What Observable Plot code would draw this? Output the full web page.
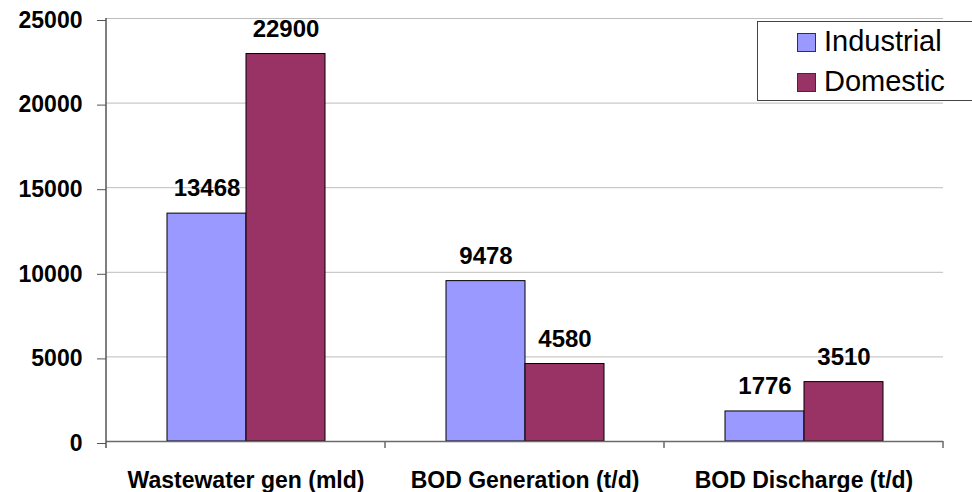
<!DOCTYPE html>
<html>
<head>
<meta charset="utf-8">
<script src="https://cdn.jsdelivr.net/npm/d3@7"></script>
<script src="https://cdn.jsdelivr.net/npm/@observablehq/plot@0.6"></script>
<style>
  html, body { margin: 0; padding: 0; background: #fff; overflow: hidden; }
  #wrap { position: relative; width: 972px; height: 492px; font-family: "Liberation Sans", Arial, sans-serif; }
  #legend { position: absolute; left: 757px; top: 21px; width: 230px; height: 80px; border: 1px solid #444; background: #fff; box-sizing: border-box; }
  .sw { position: absolute; width: 19px; height: 19px; border: 1px solid #333; box-sizing: border-box; left: 39px; }
  .lt { position: absolute; left: 66px; font-size: 29px; line-height: 32px; color: #000; white-space: nowrap; }
</style>
</head>
<body>
<div id="wrap"></div>
<script>
const categories = ["Wastewater gen (mld)", "BOD Generation (t/d)", "BOD Discharge (t/d)"];
const series = ["Industrial", "Domestic"];
const industrial = [13468, 9478, 1776];
const domestic = [22900, 4580, 3510];
const colors = ["#9999FF", "#993366"];
const yTicks = [0, 5000, 10000, 15000, 20000, 25000];

const data = [];
categories.forEach((c, i) => {
  data.push({category: c, series: series[0], value: industrial[i]});
  data.push({category: c, series: series[1], value: domestic[i]});
});

const font = '"Liberation Sans", Arial, sans-serif';
const axisColor = "#555";

const chart = Plot.plot({
  width: 972,
  height: 492,
  marginLeft: 105,
  marginRight: 29,
  marginTop: 18,
  marginBottom: 51,
  style: {fontFamily: font, background: "#fff", overflow: "visible"},
  fx: {domain: categories, padding: 0, label: null},
  x: {domain: series, paddingInner: 0, paddingOuter: 0.745, axis: null},
  y: {domain: [0, 25000], label: null},
  color: {domain: series, range: colors},
  marks: [
    Plot.ruleY(yTicks.filter(d => d > 0), {stroke: "#bdbdbd", strokeWidth: 1}),
    Plot.barY(data, {fx: "category", x: "series", y: "value", fill: "series", stroke: "#000", strokeWidth: 1}),
    Plot.ruleY([0], {stroke: "#6a6a6a", strokeWidth: 1.5}),
    Plot.text(data, {fx: "category", x: "series", y: "value", text: d => String(d.value), dy: -25, lineAnchor: "middle", fontSize: 24, fontWeight: "bold", fill: "#000"}),
    Plot.axisY(yTicks, {tickSize: 9, tickPadding: 15, tickFormat: "d", fontSize: 23, fontWeight: "bold", stroke: axisColor, fill: "#000", dy: 2, label: null}),
    Plot.axisFx({anchor: "bottom", tickSize: 0, tickPadding: 30, fontSize: 23, fontWeight: "bold", fill: "#000", label: null})
  ]
});

document.getElementById("wrap").appendChild(chart);

// axis line and category boundary ticks, positioned from the plot's own scales
const fx = chart.scale("fx");
const y = chart.scale("y");
const svg = d3.select(chart);
const y0 = y.apply(0), yTop = y.apply(25000);
const bw = fx.bandwidth;
const bounds = categories.map(c => fx.apply(c)).concat([fx.apply(categories[categories.length - 1]) + bw]);
const g = svg.append("g");
g.append("line").attr("x1", bounds[0]).attr("x2", bounds[0]).attr("y1", yTop).attr("y2", y0 + 7).attr("stroke", axisColor).attr("stroke-width", 1.5);
bounds.slice(1).forEach(b => {
  g.append("line").attr("x1", b).attr("x2", b).attr("y1", y0).attr("y2", y0 + 7).attr("stroke", "#6a6a6a").attr("stroke-width", 1.5);
});

// legend overlaid in the top-right corner
const legend = document.createElement("div");
legend.id = "legend";
series.forEach((s, i) => {
  const sw = document.createElement("div");
  sw.className = "sw";
  sw.style.top = (11 + i * 40) + "px";
  sw.style.background = colors[i];
  const lt = document.createElement("div");
  lt.className = "lt";
  lt.style.top = (3 + i * 40) + "px";
  lt.textContent = s;
  legend.appendChild(sw);
  legend.appendChild(lt);
});
document.getElementById("wrap").appendChild(legend);
</script>
</body>
</html>
